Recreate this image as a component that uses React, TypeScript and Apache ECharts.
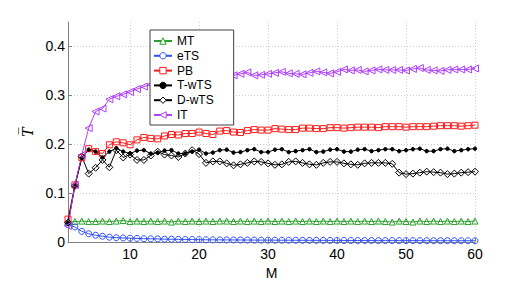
import React, { useEffect, useRef } from "react";
import * as echarts from "echarts";

const M: number[] = Array.from({ length: 60 }, (_, i) => i + 1);

const mtValues = [
  0.040, 0.042, 0.043, 0.042, 0.042, 0.043, 0.042, 0.043, 0.044, 0.042,
  0.043, 0.042, 0.043, 0.042, 0.043, 0.041, 0.043, 0.042, 0.043, 0.042,
  0.043, 0.042, 0.043, 0.043, 0.042, 0.043, 0.042, 0.043, 0.042, 0.043,
  0.042, 0.043, 0.042, 0.043, 0.042, 0.043, 0.042, 0.043, 0.042, 0.043,
  0.042, 0.043, 0.042, 0.043, 0.042, 0.043, 0.042, 0.041, 0.043, 0.042,
  0.041, 0.043, 0.042, 0.043, 0.042, 0.043, 0.042, 0.043, 0.042, 0.043,
];
const etsValues = [
  0.036, 0.031, 0.022, 0.017, 0.014, 0.012, 0.010, 0.009, 0.0085, 0.008,
  0.0075, 0.007, 0.0068, 0.0065, 0.006, 0.0058, 0.0056, 0.0054, 0.0052, 0.005,
  0.0048, 0.0047, 0.0046, 0.0045, 0.0044, 0.0043, 0.0042, 0.0041, 0.004, 0.004,
  0.0039, 0.0038, 0.0038, 0.0037, 0.0036, 0.0036, 0.0035, 0.0035, 0.0034, 0.0034,
  0.0033, 0.0033, 0.0032, 0.0032, 0.0032, 0.0031, 0.0031, 0.0031, 0.003, 0.003,
  0.003, 0.003, 0.0029, 0.0029, 0.0029, 0.0029, 0.0028, 0.0028, 0.0028, 0.0028,
];
const pbValues = [
  0.047, 0.117, 0.173, 0.191, 0.185, 0.181, 0.199, 0.205, 0.203, 0.199,
  0.209, 0.214, 0.212, 0.211, 0.217, 0.220, 0.219, 0.222, 0.222, 0.225,
  0.222, 0.220, 0.227, 0.228, 0.225, 0.224, 0.228, 0.230, 0.229, 0.229,
  0.232, 0.231, 0.230, 0.230, 0.233, 0.233, 0.232, 0.232, 0.234, 0.234,
  0.233, 0.234, 0.235, 0.235, 0.235, 0.234, 0.236, 0.236, 0.236, 0.235,
  0.236, 0.236, 0.236, 0.237, 0.238, 0.238, 0.238, 0.237, 0.238, 0.239,
];
const twtsValues = [
  0.039, 0.115, 0.172, 0.189, 0.185, 0.173, 0.185, 0.192, 0.185, 0.181,
  0.187, 0.188, 0.181, 0.183, 0.187, 0.188, 0.181, 0.181, 0.185, 0.189,
  0.181, 0.183, 0.188, 0.189, 0.183, 0.184, 0.188, 0.190, 0.184, 0.184,
  0.189, 0.190, 0.184, 0.186, 0.188, 0.190, 0.184, 0.185, 0.189, 0.190,
  0.185, 0.185, 0.189, 0.190, 0.186, 0.188, 0.190, 0.190, 0.186, 0.188,
  0.190, 0.191, 0.186, 0.186, 0.190, 0.191, 0.186, 0.188, 0.190, 0.191,
];
const dwtsValues = [
  0.040, 0.115, 0.175, 0.140, 0.152, 0.168, 0.153, 0.188, 0.173, 0.179,
  0.168, 0.168, 0.177, 0.185, 0.179, 0.177, 0.174, 0.181, 0.188, 0.180,
  0.162, 0.165, 0.165, 0.161, 0.157, 0.159, 0.162, 0.165, 0.164, 0.161,
  0.158, 0.159, 0.164, 0.165, 0.162, 0.159, 0.158, 0.162, 0.164, 0.164,
  0.161, 0.159, 0.158, 0.161, 0.162, 0.162, 0.162, 0.160, 0.142, 0.139,
  0.140, 0.142, 0.144, 0.143, 0.142, 0.139, 0.140, 0.142, 0.143, 0.144,
];
const itValues = [
  0.033, 0.117, 0.178, 0.233, 0.267, 0.273, 0.292, 0.298, 0.302, 0.307,
  0.313, 0.318, 0.322, 0.325, 0.328, 0.330, 0.332, 0.334, 0.336, 0.337,
  0.338, 0.339, 0.340, 0.341, 0.341, 0.344, 0.347, 0.341, 0.342, 0.344,
  0.346, 0.348, 0.345, 0.344, 0.343, 0.346, 0.349, 0.347, 0.345, 0.348,
  0.353, 0.351, 0.352, 0.349, 0.351, 0.353, 0.352, 0.352, 0.352, 0.351,
  0.354, 0.356, 0.352, 0.351, 0.350, 0.352, 0.353, 0.353, 0.353, 0.355,
];

const xTicks = [10, 20, 30, 40, 50, 60];
const yTicks = [0, 0.1, 0.2, 0.3, 0.4];

const FONT = "Liberation Sans, Arial, Helvetica, sans-serif";

const SERIES_STYLE = [
  { name: "MT", values: mtValues, color: "#2ca02c", symbol: "triangle", size: 6, filled: false, rotate: 0 },
  { name: "eTS", values: etsValues, color: "#3050ff", symbol: "circle", size: 6, filled: false, rotate: 0 },
  { name: "PB", values: pbValues, color: "#ff1a1a", symbol: "rect", size: 6, filled: false, rotate: 0 },
  { name: "T-wTS", values: twtsValues, color: "#000000", symbol: "circle", size: 3.5, filled: true, rotate: 0 },
  { name: "D-wTS", values: dwtsValues, color: "#000000", symbol: "diamond", size: 7, filled: false, rotate: 0 },
  { name: "IT", values: itValues, color: "#b040ff", symbol: "triangle", size: 7, filled: false, rotate: 90 },
];

function itemStyleOf(color: string, filled: boolean) {
  return filled
    ? { color, borderColor: color, borderWidth: 1 }
    : { color: "rgba(255,255,255,0)", borderColor: color, borderWidth: 1 };
}

export default function App() {
  const ref = useRef<HTMLDivElement>(null);
  useEffect(() => {
    if (!ref.current) return;
    const chart = echarts.init(ref.current, undefined, { renderer: "svg" });
    chart.setOption({
      animation: false,
      backgroundColor: "#ffffff",
      grid: { left: 68, top: 22, right: 51, bottom: 32, containLabel: false },
      xAxis: {
        type: "value",
        min: 1,
        max: 60,
        name: "M",
        nameLocation: "middle",
        nameGap: 20,
        nameTextStyle: { fontFamily: FONT, fontSize: 14, color: "#000" },
        axisLine: { show: true, lineStyle: { color: "#808080", width: 1 } },
        axisTick: { show: true, inside: true, length: 4, customValues: xTicks, lineStyle: { color: "#808080" } },
        axisLabel: { customValues: xTicks, fontFamily: FONT, fontSize: 14, color: "#000", margin: 5 },
        splitLine: { show: true, lineStyle: { color: "#d0d0d0", type: [1, 2], width: 1 } },
      },
      yAxis: {
        type: "value",
        min: 0,
        max: 0.45,
        name: "T\u0305",
        nameLocation: "middle",
        nameRotate: 90,
        nameGap: 33,
        nameTextStyle: { fontFamily: "DejaVu Serif, Liberation Serif, serif", fontStyle: "italic", fontSize: 14, color: "#000" },
        axisLine: { show: true, lineStyle: { color: "#808080", width: 1 } },
        axisTick: { show: true, inside: true, length: 4, customValues: yTicks, lineStyle: { color: "#808080" } },
        axisLabel: {
          customValues: yTicks,
          fontFamily: FONT,
          fontSize: 14,
          color: "#000",
          margin: 3,
          formatter: (v: number) => String(Math.round(v * 10) / 10),
        },
        splitLine: { show: true, lineStyle: { color: "#d0d0d0", type: [1, 2], width: 1 } },
      },
      legend: {
        orient: "vertical",
        left: 150,
        top: 30,
        itemWidth: 18,
        itemHeight: 8,
        itemGap: 2.8,
        padding: [5, 20, 4, 3],
        borderColor: "#404040",
        borderWidth: 1,
        backgroundColor: "#ffffff",
        textStyle: { fontFamily: FONT, fontSize: 12, color: "#000" },
        data: SERIES_STYLE.map((s) => ({
          name: s.name,
          symbolRotate: s.rotate,
          itemStyle: s.filled
            ? { color: s.color, borderColor: s.color, borderWidth: 1 }
            : { color: "#ffffff", borderColor: s.color, borderWidth: 1 },
        })),
      },
      series: SERIES_STYLE.map((s) => ({
        name: s.name,
        type: "line",
        data: M.map((m, i) => [m, s.values[i]]),
        symbol: s.symbol,
        symbolSize: s.size,
        symbolRotate: s.rotate,
        showAllSymbol: true,
        lineStyle: { color: s.color, width: 1 },
        itemStyle: itemStyleOf(s.color, s.filled),
        emphasis: { disabled: true },
      })),
    });
    return () => chart.dispose();
  }, []);
  return <div ref={ref} style={{ width: 526, height: 285, position: "absolute", left: 0, top: 0 }} />;
}
